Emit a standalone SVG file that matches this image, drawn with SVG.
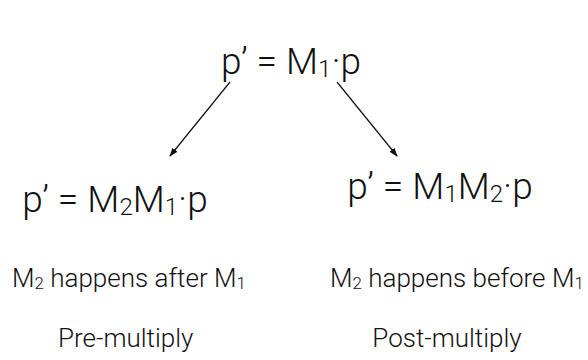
<svg xmlns="http://www.w3.org/2000/svg" width="588" height="360" viewBox="0 0 588 360">
<style>
text{font-family:"Roboto","Liberation Sans",sans-serif;font-weight:300;fill:#111}
.f{font-size:37px}
.s{font-size:26px}
.sub{font-size:65%}
.c{stroke:#111;stroke-width:1.2;fill:none}
</style>
<defs>
<marker id="ah" markerWidth="10" markerHeight="10" refX="8" refY="5" orient="auto" markerUnits="userSpaceOnUse">
<path d="M0,1.8 L9,5 L0,8.2 Z" fill="#111"/>
</marker>
</defs>
<rect width="588" height="360" fill="#fff"/>
<g id="top"><text class="f" x="291" y="74" text-anchor="middle">p’ = M<tspan class="sub" dy="3">1</tspan><tspan dy="-3">·p</tspan></text></g>
<g id="connectors">
<line class="c" x1="230" y1="82" x2="170" y2="156" marker-end="url(#ah)"/>
<line class="c" x1="337" y1="82" x2="397" y2="156" marker-end="url(#ah)"/>
</g>
<g id="pre"><text class="f" x="115" y="212" text-anchor="middle">p’ = M<tspan class="sub" dy="3">2</tspan><tspan dy="-3">M</tspan><tspan class="sub" dy="3">1</tspan><tspan dy="-3">·p</tspan></text>
<text class="s" x="12" y="287">M<tspan class="sub" dy="2">2</tspan><tspan dy="-2"> happens after M</tspan><tspan class="sub" dy="2">1</tspan></text>
<text class="s" x="58" y="347">Pre-multiply</text></g>
<g id="post"><text class="f" x="440" y="199" text-anchor="middle">p’ = M<tspan class="sub" dy="3">1</tspan><tspan dy="-3">M</tspan><tspan class="sub" dy="3">2</tspan><tspan dy="-3">·p</tspan></text>
<text class="s" x="330" y="287">M<tspan class="sub" dy="2">2</tspan><tspan dy="-2"> happens before M</tspan><tspan class="sub" dy="2">1</tspan></text>
<text class="s" x="447" y="347" text-anchor="middle">Post-multiply</text></g>
</svg>
